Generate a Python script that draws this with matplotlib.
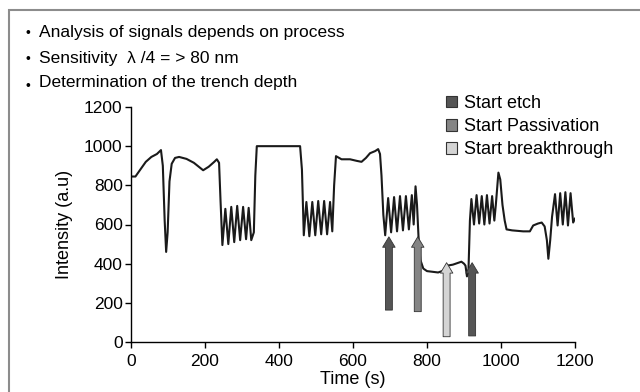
import numpy as np
import matplotlib.pyplot as plt
from matplotlib.patches import Patch, Rectangle

plt.rcParams['font.family'] = ['Liberation Sans', 'DejaVu Sans']

# signal: time (s), intensity (a.u) -- one line per stretch
time = [0, 12, 25, 40, 55, 70, 81, 86, 91, 95, 99, 104, 110, 119, 130, 150, 170, 195, 210, 225, 232, 238, 242,
        247, 255, 263, 271, 279, 287, 295, 303, 311, 318, 325, 332, 336, 340, 400, 457, 462,
        467, 474, 482, 490, 498, 506, 514, 522, 530, 538, 544, 549, 554, 569, 592, 610, 623, 635, 646, 660, 668, 673, 677, 682,
        687, 695, 703, 711, 719, 727, 735, 743, 751, 759, 764, 769, 773, 777, 782, 790, 800, 830, 845, 855, 870, 893, 900, 904, 908, 912,
        916, 920, 927, 934, 941, 948, 955, 962, 969, 976, 982, 986, 993, 998, 1004, 1010, 1015, 1030, 1060, 1078, 1087, 1100, 1110, 1118, 1124, 1128, 1133, 1138,
        1146, 1153, 1160, 1167, 1174, 1181, 1188, 1195, 1200]
intensity = [845, 845, 880, 920, 945, 960, 980, 900, 620, 460, 560, 820, 910, 940, 945, 935, 915, 877, 895, 920, 933, 915, 720,
             495, 680, 500, 690, 510, 695, 520, 690, 525, 685, 520, 560, 850, 1000, 1000, 1000, 880,
             545, 715, 540, 715, 545, 720, 550, 720, 550, 715, 565, 800, 949, 933, 933, 925, 920, 940, 964, 975, 985, 960, 850, 650,
             545, 735, 560, 740, 565, 745, 570, 745, 575, 750, 600, 795, 700, 540, 420, 375, 362, 355, 365, 390, 395, 410, 400, 390, 335, 360,
             620, 730, 600, 750, 605, 745, 600, 750, 605, 745, 620, 700, 865, 830, 700, 620, 575, 570, 565, 565, 595, 605, 610, 590, 520, 425, 520, 640,
             755, 595, 760, 600, 765, 595, 760, 610, 630]

# event arrows
arrow_t = [697, 775, 853, 922]
arrow_tip = [537, 537, 405, 405]
arrow_base = [163, 155, 27, 31]
arrow_kind = ['Start etch', 'Start Passivation', 'Start breakthrough', 'Start etch']

legend_labels = ['Start etch', 'Start Passivation', 'Start breakthrough']
legend_colors = ['#555555', '#858585', '#d4d4d4']
kind_color = dict(zip(legend_labels, legend_colors))

bullets = ['Analysis of signals depends on process',
           'Sensitivity  \u03bb /4 = > 80 nm',
           'Determination of the trench depth']

fig = plt.figure(figsize=(6.4, 3.92), dpi=100)
ax = fig.add_axes([131/640, 1 - 342/392, 444/640, 235/392])

# outer frame
fig.patches.append(Rectangle((9/640, -0.1), 1.2, 1.1 - 10/392, transform=fig.transFigure,
                             fill=False, ec='#8c8c8c', lw=1.5))

ax.plot(time, intensity, color='#1a1a1a', lw=1.5)

for t, tip, base, k in zip(arrow_t, arrow_tip, arrow_base, arrow_kind):
    ax.annotate('', xy=(t, tip), xytext=(t, base),
                arrowprops=dict(arrowstyle='simple,head_length=0.75,head_width=0.9,tail_width=0.5',
                                mutation_scale=10, fc=kind_color[k], ec='#333333', lw=0.6,
                                shrinkA=0, shrinkB=0))

ax.set_xlim(0, 1200)
ax.set_ylim(0, 1200)
ax.set_xticks(np.arange(0, 1201, 200))
ax.set_yticks(np.arange(0, 1201, 200))
ax.spines['top'].set_visible(False)
ax.spines['right'].set_visible(False)
ax.spines['left'].set_linewidth(1.0)
ax.spines['bottom'].set_linewidth(1.0)
ax.tick_params(direction='out', length=4, width=1.0, labelsize=12.5)
ax.tick_params(axis='x', pad=5)
ax.tick_params(axis='y', pad=2)
ax.set_xlabel('Time (s)', fontsize=13, labelpad=1)
ax.set_ylabel('Intensity (a.u)', fontsize=13, labelpad=8)

handles = [Patch(fc=c, ec='#333333', lw=0.8) for c in legend_colors]
fig.legend(handles, legend_labels, loc='upper left', bbox_to_anchor=(446/640, 1 - 95/392),
           frameon=False, fontsize=13, handlelength=0.6, handleheight=0.6,
           handletextpad=0.4, labelspacing=0.34, borderpad=0, borderaxespad=0)

ys = [1 - 37/392, 1 - 63/392, 1 - 87/392]
for i, (s, y) in enumerate(zip(bullets, ys)):
    fig.text(39/640, y, s, fontsize=12.5, va='baseline', ha='left')
    fig.text(25/640, y - (3/392 if i == 2 else 0), '\u2022', fontsize=10, va='baseline', ha='left')

fig.savefig('out.png', dpi=100)
